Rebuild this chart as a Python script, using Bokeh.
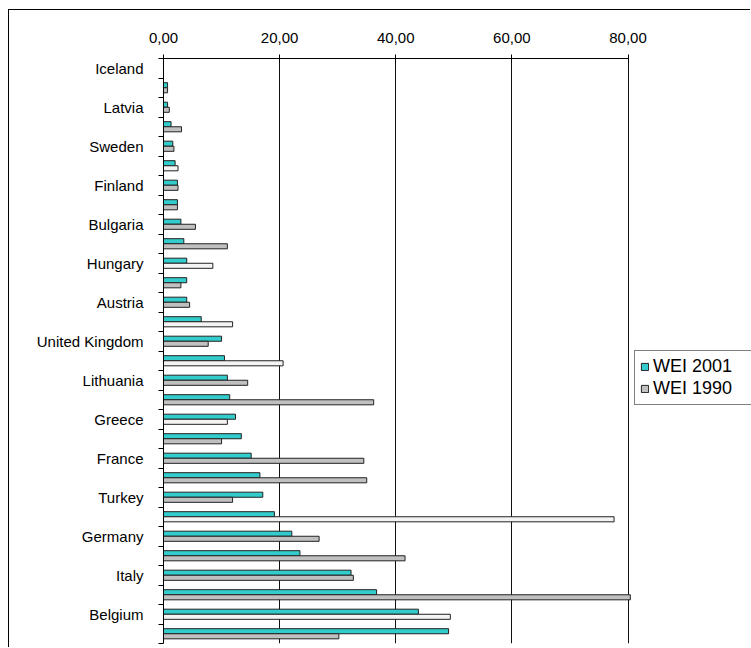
from bokeh.plotting import figure
from bokeh.models import Range1d, FixedTicker, ColumnDataSource, Legend, LegendItem
from bokeh.transform import dodge
from bokeh.embed import file_html
from bokeh.resources import INLINE

# ---- data ----
countries = ["Iceland", "Norway", "Latvia", "Ireland", "Sweden", "Slovenia",
             "Finland", "Denmark", "Bulgaria", "Estonia", "Hungary", "Slovakia",
             "Austria", "Netherlands", "United Kingdom", "Czech Republic",
             "Lithuania", "Romania", "Greece", "Portugal", "France", "Poland",
             "Turkey", "Switzerland", "Germany", "Spain", "Italy", "Cyprus",
             "Belgium", "Malta"]
wei_2001 = [0.0, 0.7, 0.7, 1.3, 1.6, 2.0, 2.4, 2.4, 3.0, 3.5, 4.0, 4.0, 4.0,
            6.5, 10.0, 10.5, 11.0, 11.4, 12.4, 13.4, 15.1, 16.6, 17.1, 19.1,
            22.1, 23.5, 32.3, 36.7, 43.9, 49.1]
wei_1990 = [0.0, 0.7, 1.0, 3.1, 1.8, 2.5, 2.5, 2.4, 5.5, 11.0, 8.5, 3.0, 4.5,
            11.9, 7.7, 20.6, 14.5, 36.2, 11.0, 10.0, 34.5, 35.0, 11.9, 77.6,
            26.8, 41.6, 32.7, 90.0, 49.4, 30.2]
light_1990 = [5, 10, 13, 15, 18, 23, 28]   # 1990 bars drawn in the pale fill
x_ticks = [0, 20, 40, 60, 80]
x_tick_labels = ["0,00", "20,00", "40,00", "60,00", "80,00"]
AXIS_MAX = 80

# ---- styles / geometry ----
FONT = "Liberation Sans"
TEAL = "#33CCCC"
GRAY = "#C0C0C0"
PALE = "#F4F4F4"
EDGE = "#222222"
W, H = 742, 638                 # canvas (placed 9px right / 10px down)
LEFT, TOP, BOTTOM = 154, 48, 5  # borders around the plotting frame
PX_AXIS = 464.5                 # pixel length of the 0..80 axis
view_max = AXIS_MAX * (W - LEFT) / PX_AXIS   # frame runs to the canvas edge

n = len(countries)
fill_1990 = [PALE if i in light_1990 else GRAY for i in range(n)]
shown_1990 = [min(v, AXIS_MAX + 0.4) for v in wei_1990]   # clipped at axis end
src = ColumnDataSource(dict(pos=list(range(n)), name=countries,
                            w01=wei_2001, w90=shown_1990, c90=fill_1990))

p = figure(width=W, height=H, output_backend="svg", toolbar_location=None,
           x_range=Range1d(0, view_max), y_range=Range1d(n - 0.5, -0.5),
           x_axis_location="above",
           min_border_left=LEFT, min_border_right=0,
           min_border_top=TOP, min_border_bottom=BOTTOM)
p.title.visible = False
p.outline_line_color = None
p.background_fill_color = "white"
p.border_fill_color = "white"
p.styles = {"border-top": "1px solid #000", "border-left": "1px solid #000",
            "margin-left": "8px", "margin-top": "9px"}

BH = 0.26
r1 = p.hbar(y=dodge("pos", -BH / 2, range=p.y_range), left=0, right="w01",
            height=BH, source=src, fill_color=TEAL, line_color=EDGE, line_width=1)
r2 = p.hbar(y=dodge("pos", BH / 2, range=p.y_range), left=0, right="w90",
            height=BH, source=src, fill_color="c90", line_color=EDGE, line_width=1)

# x axis on top
xa = p.xaxis[0]
xa.bounds = (0, AXIS_MAX)
xa.ticker = FixedTicker(ticks=x_ticks)
xa.major_label_overrides = {t: l for t, l in zip(x_ticks, x_tick_labels)}
xa.major_label_text_font = FONT
xa.major_label_text_font_size = "15px"
xa.major_label_text_color = "black"
xa.major_tick_in = 4
xa.major_tick_out = 4
xa.major_tick_line_color = "black"
xa.minor_tick_line_color = None
xa.axis_line_color = "black"
xa.major_label_standoff = 12

# y axis: labels on every other category, ticks at category boundaries
ya = p.yaxis[0]
labelled = list(range(0, n, 2))
ya.ticker = FixedTicker(ticks=labelled,
                        minor_ticks=[i - 0.5 for i in range(n + 1)])
ya.major_label_overrides = {i: countries[i] for i in labelled}
ya.major_label_text_font = FONT
ya.major_label_text_font_size = "15px"
ya.major_label_text_color = "black"
ya.major_tick_line_color = None
ya.major_tick_in = 0
ya.major_tick_out = 0
ya.minor_tick_in = 0
ya.minor_tick_out = 5
ya.minor_tick_line_color = "black"
ya.axis_line_color = "black"
ya.major_label_standoff = 15

p.ygrid.visible = False
p.xgrid.ticker = FixedTicker(ticks=x_ticks[1:])
p.xgrid.grid_line_color = "#111111"
p.xgrid.grid_line_width = 1

legend = Legend(items=[LegendItem(label="WEI 2001", renderers=[r1], index=1),
                       LegendItem(label="WEI 1990", renderers=[r2], index=1)],
                location=(471, 238))
legend.label_text_font = FONT
legend.label_text_font_size = "18px"
legend.label_text_color = "black"
legend.glyph_width = 9
legend.glyph_height = 9
legend.label_standoff = 4
legend.label_width = 130
legend.label_height = 18
legend.padding = 5
legend.spacing = 1
legend.margin = 0
legend.border_line_color = "black"
legend.border_line_width = 1
legend.background_fill_color = "white"
legend.background_fill_alpha = 1
p.add_layout(legend)

open("out.html", "w").write(file_html(p, INLINE))
